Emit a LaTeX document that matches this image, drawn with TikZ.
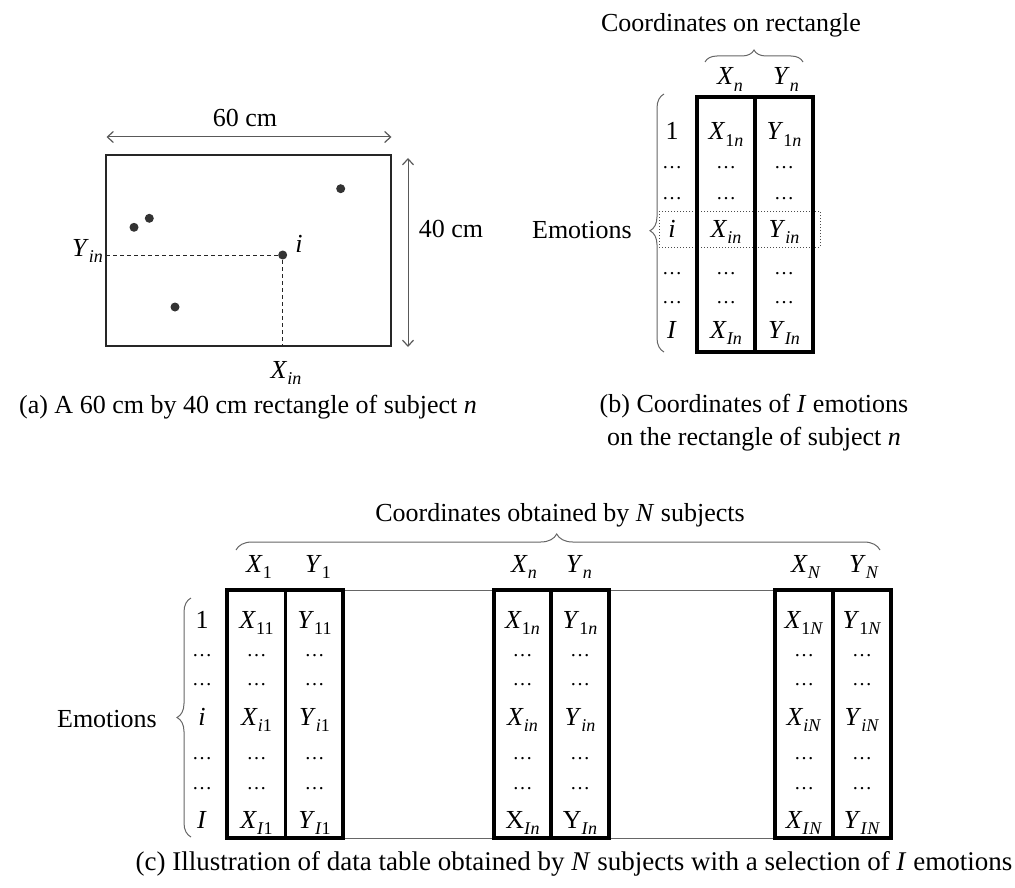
\documentclass[tikz,border=0pt]{standalone}
\usepackage{fontspec}
\setmainfont{Liberation Serif}
\usetikzlibrary{decorations.pathreplacing,arrows.meta}
\newcommand{\fs}{\fontsize{26}{30}\selectfont}
\newcommand{\sbs}[1]{\raisebox{-0.25em}{\fontsize{18}{20}\selectfont #1}}
\newcommand{\vv}[2]{#1\sbs{#2}}
\newcommand{\dd}{{\fontsize{20}{24}\selectfont\ldots}}
\newcommand{\ccol}[5]{%
  \node[cell] (#1r1) at (#2,628) {\vv{#3}{1#4}};
  \node[cell] (#1r2) at (#2,656) {\dd};
  \node[cell] (#1r3) at (#2,685) {\dd};
  \node[cell] (#1r4) at (#2,725) {\vv{#3}{\textit{i}#4}};
  \node[cell] (#1r5) at (#2,759) {\dd};
  \node[cell] (#1r6) at (#2,789) {\dd};
  \node[cell] (#1r7) at (#2,828) {\vv{#5}{\textit{I}#4}};
}
\begin{document}
\begin{tikzpicture}[x=1pt,y=-1pt,
  every node/.style={font=\fs, inner sep=0pt},
  cell/.style={anchor=base},
  rectline/.style={draw=black!85, line width=1.2pt},
  dimarrow/.style={draw=black!65, line width=1pt, {Straight Barb[length=6pt,width=11pt,line width=1.2pt]}-{Straight Barb[length=6pt,width=11pt,line width=1.2pt]}},
  dashline/.style={draw=black!85, line width=1pt, dash pattern=on 4pt off 3pt},
  pt/.style={fill=black!80},
  thickbox/.style={draw=black, line width=3.2pt},
  thinline/.style={draw=black!60, line width=1pt},
  bracestyle/.style={draw=black!60, line width=1pt, decorate},
  dotbox/.style={draw=black!70, line width=1pt, dotted}
]
\useasboundingbox (0,0) rectangle (1015,888);

% ---------------- (a) ----------------
\coordinate (aTL) at (106,155);
\coordinate (aBR) at (391,346);
\draw[rectline] (aTL) rectangle (aBR);
\coordinate (h1) at (106.5,137); \coordinate (h2) at (391.5,137);
\draw[dimarrow] (h1) -- (h2);
\coordinate (v1) at (408,158); \coordinate (v2) at (408,347);
\draw[dimarrow] (v1) -- (v2);
\node[cell] (w60) at (245,127) {60 cm};
\node[cell] (h40) at (451,237) {40 cm};
\coordinate (p1) at (340.7,188.7);
\coordinate (p2) at (149.3,218.3);
\coordinate (p3) at (134,227.3);
\coordinate (pi) at (282.7,255);
\coordinate (p5) at (175,307);
\coordinate (yl) at (106,255);
\coordinate (xl) at (282.7,346);
\draw[dashline] (yl) -- (pi) -- (xl);
\foreach \p in {p1,p2,p3,pi,p5} \fill[pt] (\p) circle (4.5pt);
\node[cell] (ilab) at (299,252) {\textit{i}};
\node[cell, anchor=base east] (yin) at (103,256) {\vv{\textit{Y}}{\textit{in}}};
\node[cell] (xin) at (286,378) {\vv{\textit{X}}{\textit{in}}};
\node[cell] (capa) at (248,413) {(a) A 60 cm by 40 cm rectangle of subject \textit{n}};

% ---------------- (b) ----------------
\node[cell] (tb) at (731,32) {Coordinates on rectangle};
\coordinate (bb1) at (705,62); \coordinate (bb2) at (803,62);
\draw[bracestyle, decoration={brace, amplitude=12pt, aspect=0.5}] (bb1) -- (bb2);
\node[cell] (bxh) at (730,85) {\vv{\textit{X}}{\textit{n}}};
\node[cell] (byh) at (786,85) {\vv{\textit{Y}}{\textit{n}}};
\draw[dotbox] (659,211) rectangle (820,247);
\draw[thickbox] (697,97) rectangle (813,352);
\draw[thickbox] (755,97) -- (755,352);
\coordinate (lb1) at (664,352); \coordinate (lb2) at (664,94);
\draw[bracestyle, decoration={brace, amplitude=14pt, aspect=0.47}] (lb1) -- (lb2);
\node[cell, anchor=base east] (emb) at (632,238) {Emotions};
% rows
\node[cell] (bl1) at (672,140) {1};
\node[cell] (bl2) at (672,168) {\dd};
\node[cell] (bl3) at (672,200) {\dd};
\node[cell] (bl4) at (672,237) {\textit{i}};
\node[cell] (bl5) at (672,274) {\dd};
\node[cell] (bl6) at (672,303) {\dd};
\node[cell] (bl7) at (672,338) {\textit{I}};
\node[cell] (bx1) at (726,140) {\vv{\textit{X}}{1\textit{n}}};
\node[cell] (bx2) at (726,168) {\dd};
\node[cell] (bx3) at (726,200) {\dd};
\node[cell] (bx4) at (726,237) {\vv{\textit{X}}{\textit{in}}};
\node[cell] (bx5) at (726,274) {\dd};
\node[cell] (bx6) at (726,303) {\dd};
\node[cell] (bx7) at (726,338) {\vv{\textit{X}}{\textit{In}}};
\node[cell] (by1) at (784,140) {\vv{\textit{Y}}{1\textit{n}}};
\node[cell] (by2) at (784,168) {\dd};
\node[cell] (by3) at (784,200) {\dd};
\node[cell] (by4) at (784,237) {\vv{\textit{Y}}{\textit{in}}};
\node[cell] (by5) at (784,274) {\dd};
\node[cell] (by6) at (784,303) {\dd};
\node[cell] (by7) at (784,338) {\vv{\textit{Y}}{\textit{In}}};
\node[cell] (capb1) at (754,412) {(b) Coordinates of \textit{I} emotions};
\node[cell] (capb2) at (754,445) {on the rectangle of subject \textit{n}};

% ---------------- (c) ----------------
\node[cell] (tc) at (560,521) {Coordinates obtained by \textit{N} subjects};
\coordinate (cb1) at (236,550); \coordinate (cb2) at (880,550);
\draw[bracestyle, decoration={brace, amplitude=16pt, aspect=0.498}] (cb1) -- (cb2);
\node[cell] (cx1h) at (259,572) {\vv{\textit{X}}{1}};
\node[cell] (cy1h) at (318,572) {\vv{\textit{Y}}{1}};
\node[cell] (cxnh) at (524,572) {\vv{\textit{X}}{\textit{n}}};
\node[cell] (cynh) at (579,572) {\vv{\textit{Y}}{\textit{n}}};
\node[cell] (cxNh) at (806,572) {\vv{\textit{X}}{\textit{N}}};
\node[cell] (cyNh) at (864,572) {\vv{\textit{Y}}{\textit{N}}};
\coordinate (t1tr) at (343,590); \coordinate (t3tl) at (775,590);
\coordinate (t1br) at (343,838); \coordinate (t3bl) at (775,838);
\draw[thinline] (t1tr) -- (t3tl);
\draw[thinline] (t1br) -- (t3bl);
\draw[thickbox] (227,590) rectangle (343,838);
\draw[thickbox] (285.5,590) -- (285.5,838);
\draw[thickbox] (494,590) rectangle (609,838);
\draw[thickbox] (551,590) -- (551,838);
\draw[thickbox] (775,590) rectangle (891,838);
\draw[thickbox] (833,590) -- (833,838);
\coordinate (lc1) at (191,837); \coordinate (lc2) at (191,598);
\draw[bracestyle, decoration={brace, amplitude=14pt, aspect=0.5}] (lc1) -- (lc2);
\node[cell, anchor=base east] (emc) at (157,727) {Emotions};
\node[cell] (cl1) at (202,628) {1};
\node[cell] (cl2) at (202,656) {\dd};
\node[cell] (cl3) at (202,685) {\dd};
\node[cell] (cl4) at (202,725) {\textit{i}};
\node[cell] (cl5) at (202,759) {\dd};
\node[cell] (cl6) at (202,789) {\dd};
\node[cell] (cl7) at (202,828) {\textit{I}};
\ccol{ax}{256.5}{\textit{X}}{1}{\textit{X}}
\ccol{ay}{314.5}{\textit{Y}}{1}{\textit{Y}}
\ccol{nx}{522.5}{\textit{X}}{\textit{n}}{X}
\ccol{ny}{580}{\textit{Y}}{\textit{n}}{Y}
\ccol{Nx}{804}{\textit{X}}{\textit{N}}{\textit{X}}
\ccol{Ny}{862}{\textit{Y}}{\textit{N}}{\textit{Y}}
\node[cell, font=\fontsize{27}{30}\selectfont] (capc) at (574,870) {(c) Illustration of data table obtained by \textit{N} subjects with a selection of \textit{I} emotions};
\end{tikzpicture}
\end{document}
